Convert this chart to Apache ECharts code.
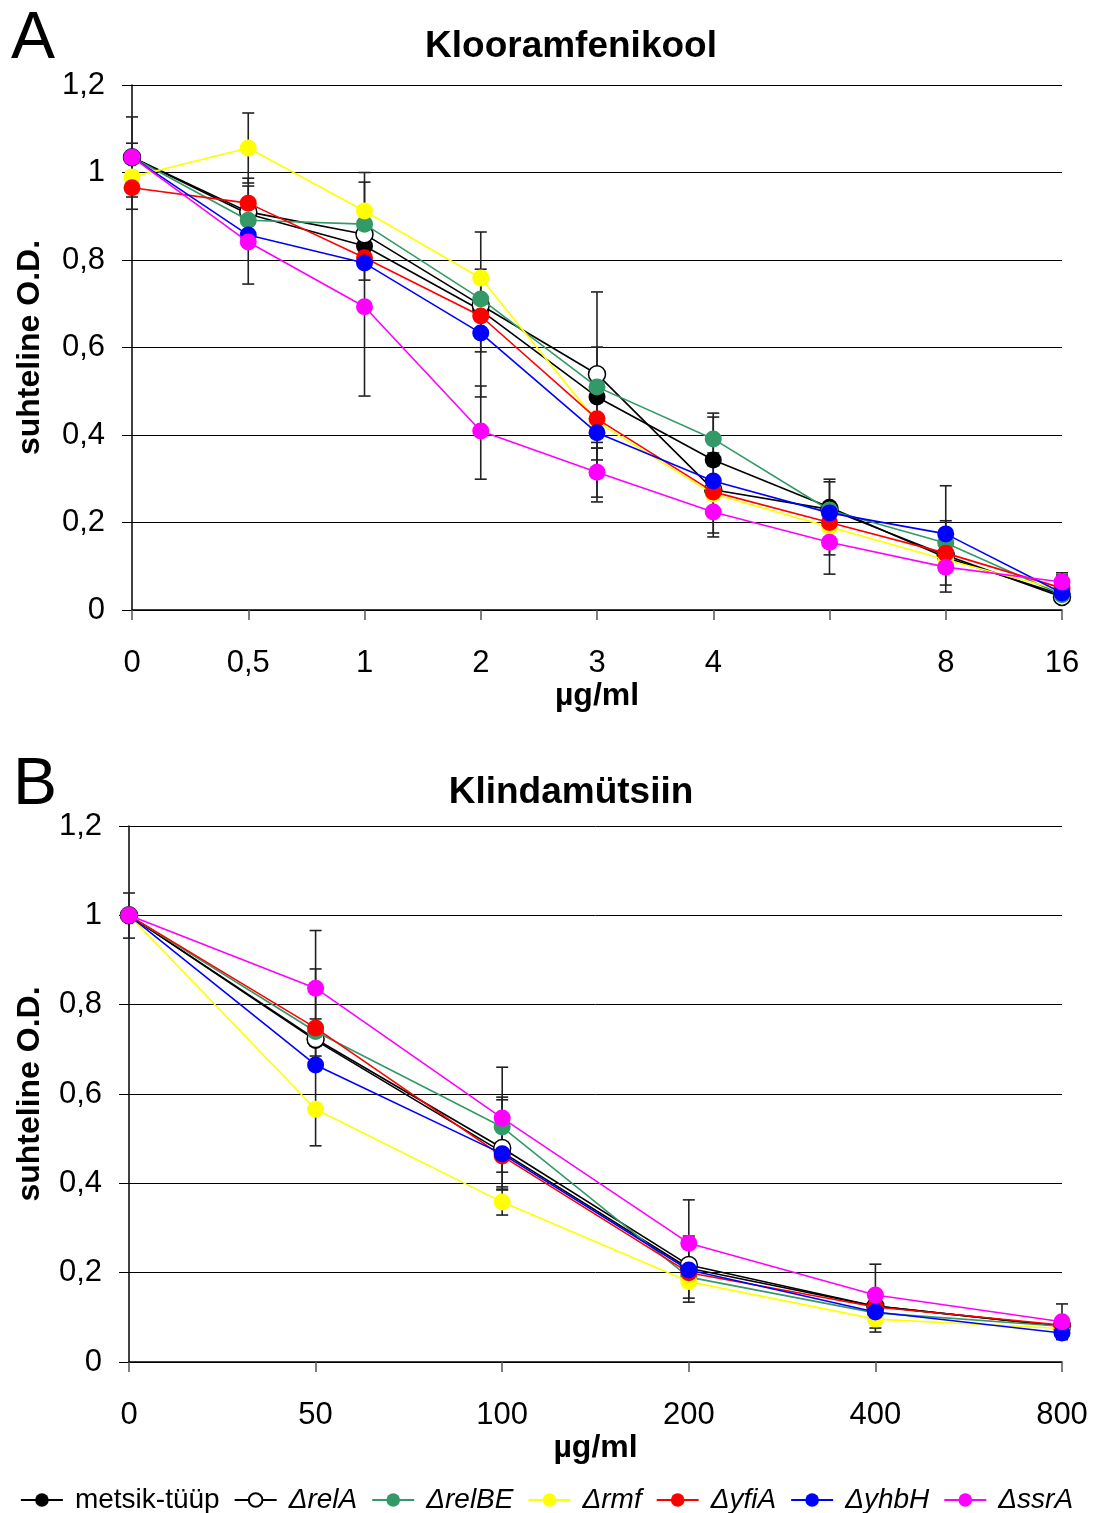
<!DOCTYPE html>
<html><head><meta charset="utf-8">
<script src="https://cdn.jsdelivr.net/npm/echarts@6/dist/echarts.min.js"></script>
<style>html,body{margin:0;padding:0;background:#fff}#c{width:1093px;height:1513px}</style>
</head><body><div id="c"></div>
<script>
const seriesNames = ['metsik-tüüp','ΔrelA','ΔrelBE','Δrmf','ΔyfiA','ΔyhbH','ΔssrA'];
const categoriesA = ['0','0,5','1','2','3','4','','8','16'];
const categoriesB = ['0','50','100','200','400','800'];
const yTicks = [0,0.2,0.4,0.6,0.8,1.0,1.2];

const A_metsik = [1.035,0.905,0.832,0.685,0.487,0.343,0.235,0.12,0.035];
const A_relA   = [1.035,0.91,0.859,0.697,0.539,0.275,0.23,0.125,0.03];
const A_relBE  = [1.035,0.891,0.882,0.711,0.51,0.391,0.228,0.153,0.035];
const A_rmf    = [0.99,1.056,0.912,0.759,0.43,0.265,0.19,0.115,0.045];
const A_yfiA   = [0.965,0.93,0.805,0.672,0.437,0.27,0.2,0.13,0.05];
const A_yhbH   = [1.035,0.857,0.793,0.633,0.405,0.295,0.222,0.174,0.039];
const A_ssrA   = [1.035,0.841,0.693,0.409,0.315,0.224,0.155,0.098,0.064];

const B_metsik = [1,0.72,0.47,0.21,0.125,0.08];
const B_relA   = [1,0.723,0.479,0.217,0.125,0.08];
const B_relBE  = [1,0.74,0.526,0.19,0.11,0.08];
const B_rmf    = [1,0.566,0.358,0.18,0.096,0.075];
const B_yfiA   = [1,0.748,0.461,0.2,0.123,0.083];
const B_yhbH   = [1,0.665,0.466,0.206,0.112,0.065];
const B_ssrA   = [1,0.837,0.546,0.266,0.15,0.09];

// error bars: [category index, low, high]
const A_err = [[0,0.944,1.127],[0,0.916,1.067],[1,0.976,1.136],[1,0.745,0.969],[1,0.83,0.987],
  [2,0.754,1.0],[2,0.489,0.978],[3,0.59,0.864],[3,0.487,0.779],[3,0.299,0.512],
  [4,0.343,0.727],[4,0.37,0.601],[4,0.247,0.383],[4,0.258,0.37],
  [5,0.33,0.45],[5,0.176,0.441],[5,0.167,0.359],[6,0.082,0.299],[6,0.126,0.293],
  [7,0.057,0.284],[7,0.041,0.204],[8,0.045,0.085],[8,0.05,0.08]];
const B_err = [[0,0.949,1.05],[1,0.708,0.966],[1,0.484,0.768],[1,0.685,0.88],
  [2,0.425,0.66],[2,0.385,0.593],[2,0.392,0.587],[2,0.329,0.387],
  [3,0.143,0.363],[3,0.134,0.282],[4,0.076,0.219],[4,0.067,0.13],[5,0.05,0.13]];

const dataA = [A_metsik,A_relA,A_relBE,A_rmf,A_yfiA,A_yhbH,A_ssrA];
const dataB = [B_metsik,B_relA,B_relBE,B_rmf,B_yfiA,B_yhbH,B_ssrA];
const lineColors = ['#000000','#000000','#339966','#ffff00','#ff0000','#0000ff','#ff00ff'];
const fillColors = ['#000000','#ffffff','#339966','#ffff00','#ff0000','#0000ff','#ff00ff'];

const FONT = '"Liberation Sans", Arial, sans-serif';
const fmtY = v => String(Math.round(v*10)/10).replace('.', ',');

function xAxis(idx, cats) {
  return {type:'category', gridIndex:idx, data:cats, boundaryGap:false,
    name:'µg/ml', nameLocation:'middle', nameGap: idx===0 ? 70 : 62,
    nameTextStyle:{fontFamily:FONT,fontSize:32,fontWeight:'bold',color:'#000'},
    axisLine:{lineStyle:{color:'#000',width:1.5}},
    axisTick:{show:true,length:10,alignWithLabel:true,lineStyle:{color:'#555',width:1.5}},
    axisLabel:{fontFamily:FONT,fontSize:31,color:'#000',margin:38,interval:0},
    splitLine:{show:false}};
}
function yAxis(idx) {
  return {type:'value', gridIndex:idx, min:0, max:1.2, interval:0.2,
    name:'suhteline O.D.', nameLocation:'middle', nameGap: idx===0 ? 86 : 83, nameRotate:90,
    nameTextStyle:{fontFamily:FONT,fontSize:32,fontWeight:'bold',color:'#000'},
    axisLine:{show:true,lineStyle:{color:'#000',width:1.5}},
    axisTick:{show:true,length:10,lineStyle:{color:'#000',width:1}},
    axisLabel:{fontFamily:FONT,fontSize:31,color:'#000',margin:27,formatter:fmtY},
    splitLine:{show:true,lineStyle:{color:'#000',width:1}}};
}
function errSeries(idx, err) {
  return {type:'custom', xAxisIndex:idx, yAxisIndex:idx, data:err, z:1, silent:true,
    renderItem:(params, api) => {
      const x = api.value(0), lo = api.value(1), hi = api.value(2);
      const p1 = api.coord([x, lo]), p2 = api.coord([x, hi]);
      const w = 6;
      const st = {stroke:'#222', lineWidth:1.6};
      return {type:'group', children:[
        {type:'line', shape:{x1:p1[0],y1:p1[1],x2:p2[0],y2:p2[1]}, style:st},
        {type:'line', shape:{x1:p1[0]-w,y1:p1[1],x2:p1[0]+w,y2:p1[1]}, style:st},
        {type:'line', shape:{x1:p2[0]-w,y1:p2[1],x2:p2[0]+w,y2:p2[1]}, style:st}
      ]};
    }};
}
const series = [errSeries(0, A_err), errSeries(1, B_err)];
[dataA, dataB].forEach((set, gi) => {
  set.forEach((arr, i) => {
    series.push({type:'line', name:seriesNames[i], xAxisIndex:gi, yAxisIndex:gi, data:arr,
      symbol:'circle', symbolSize:17, z:2+i,
      lineStyle:{color:lineColors[i], width:1.6},
      itemStyle:{color:fillColors[i], borderColor: i===1 ? '#000' : fillColors[i], borderWidth: i===1 ? 1.5 : 0},
      emphasis:{disabled:true}, animation:false});
  });
});

const chart = echarts.init(document.getElementById('c'), null, {renderer:'canvas'});
chart.setOption({
  animation:false,
  backgroundColor:'#fff',
  title:[
    {text:'Klooramfenikool', left:566, top:23, textAlign:'center', textStyle:{fontFamily:FONT,fontSize:37,fontWeight:'bold',color:'#000'}},
    {text:'Klindamütsiin', left:566, top:769, textAlign:'center', textStyle:{fontFamily:FONT,fontSize:37,fontWeight:'bold',color:'#000'}},
    {text:'A', left:6, top:2, textStyle:{fontFamily:FONT,fontSize:66,fontWeight:'normal',color:'#000'}},
    {text:'B', left:8, top:748, textStyle:{fontFamily:FONT,fontSize:66,fontWeight:'normal',color:'#000'}}
  ],
  grid:[
    {left:132, right:31, top:85, height:525},
    {left:129, right:31, top:826, height:536}
  ],
  xAxis:[xAxis(0, categoriesA), xAxis(1, categoriesB)],
  yAxis:[yAxis(0), yAxis(1)],
  legend:{data:seriesNames, left:'center', top:1481, itemWidth:42, itemHeight:17, itemGap:14,
    textStyle:{fontFamily:FONT,fontSize:28,color:'#000',
      rich:{n:{fontFamily:FONT,fontSize:28,color:'#000',padding:[0,0,0,7]},
            it:{fontFamily:FONT,fontSize:28,fontStyle:'italic',color:'#000',padding:[0,0,0,7]}}},
    formatter: n => n === 'metsik-tüüp' ? '{n|' + n + '}' : '{it|' + n + '}'},
  series:series
});
</script></body></html>
